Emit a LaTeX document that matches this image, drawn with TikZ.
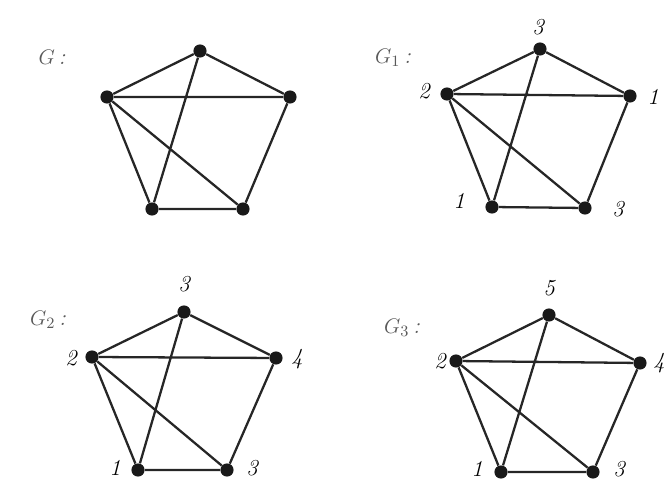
\documentclass[tikz,border=0pt]{standalone}
\begin{document}
\begin{tikzpicture}[x=0.02cm, y=-0.02cm,
    every node/.style={circle, fill=black!90, inner sep=0pt, minimum size=7.5pt},
    num/.style={rectangle, fill=none, minimum size=0pt, inner sep=0pt, font=\fontsize{13}{15}\selectfont\itshape},
    gname/.style={rectangle, fill=none, minimum size=0pt, inner sep=0pt, text=black!65, font=\fontsize{13}{15}\selectfont\itshape}]
    \useasboundingbox (0,0) rectangle (666,482);
    % G
    \node[gname] (gG) at (52,57) {$G$\,:};
    \node (a1) at (200,51) {};
    \node (a2) at (107,97) {};
    \node (a3) at (290,97) {};
    \node (a4) at (152,209) {};
    \node (a5) at (243,209) {};
    \draw[line width=1.3pt, black!85] (a1) -- (a2) (a1) -- (a3) (a2) -- (a3) (a2) -- (a4) (a2) -- (a5) (a1) -- (a4) (a3) -- (a5) (a4) -- (a5);
    % G_1
    \node[gname] (gG1) at (393,58) {$G_1$\,:};
    \node (b1) at (540,49) {};
    \node (b2) at (447,94) {};
    \node (b3) at (630,96) {};
    \node (b4) at (492,207) {};
    \node (b5) at (585,208) {};
    \node[num] (b1n) at (538,27) {3};
    \node[num] (b2n) at (424,91) {2};
    \node[num] (b3n) at (653,97) {1};
    \node[num] (b4n) at (459,201) {1};
    \node[num] (b5n) at (618,209) {3};
    \draw[line width=1.3pt, black!85] (b1) -- (b2) (b1) -- (b3) (b2) -- (b3) (b2) -- (b4) (b2) -- (b5) (b1) -- (b4) (b3) -- (b5) (b4) -- (b5);
    % G_2
    \node[gname] (gG2) at (48,320) {$G_2$\,:};
    \node (c1) at (184,312) {};
    \node (c2) at (92,357) {};
    \node (c3) at (276,358) {};
    \node (c4) at (138,470) {};
    \node (c5) at (227,470) {};
    \node[num] (c1n) at (184,284) {3};
    \node[num] (c2n) at (71,358) {2};
    \node[num] (c3n) at (297,359) {4};
    \node[num] (c4n) at (115,468) {1};
    \node[num] (c5n) at (252,468) {3};
    \draw[line width=1.3pt, black!85] (c1) -- (c2) (c1) -- (c3) (c2) -- (c3) (c2) -- (c4) (c2) -- (c5) (c1) -- (c4) (c3) -- (c5) (c4) -- (c5);
    % G_3
    \node[gname] (gG3) at (402,328) {$G_3$\,:};
    \node (d1) at (549,315) {};
    \node (d2) at (456,361) {};
    \node (d3) at (640,363) {};
    \node (d4) at (501,472) {};
    \node (d5) at (593,472) {};
    \node[num] (d1n) at (549,288) {5};
    \node[num] (d2n) at (440,361) {2};
    \node[num] (d3n) at (659,363) {4};
    \node[num] (d4n) at (477,469) {1};
    \node[num] (d5n) at (619,469) {3};
    \draw[line width=1.3pt, black!85] (d1) -- (d2) (d1) -- (d3) (d2) -- (d3) (d2) -- (d4) (d2) -- (d5) (d1) -- (d4) (d3) -- (d5) (d4) -- (d5);
\end{tikzpicture}
\end{document}
